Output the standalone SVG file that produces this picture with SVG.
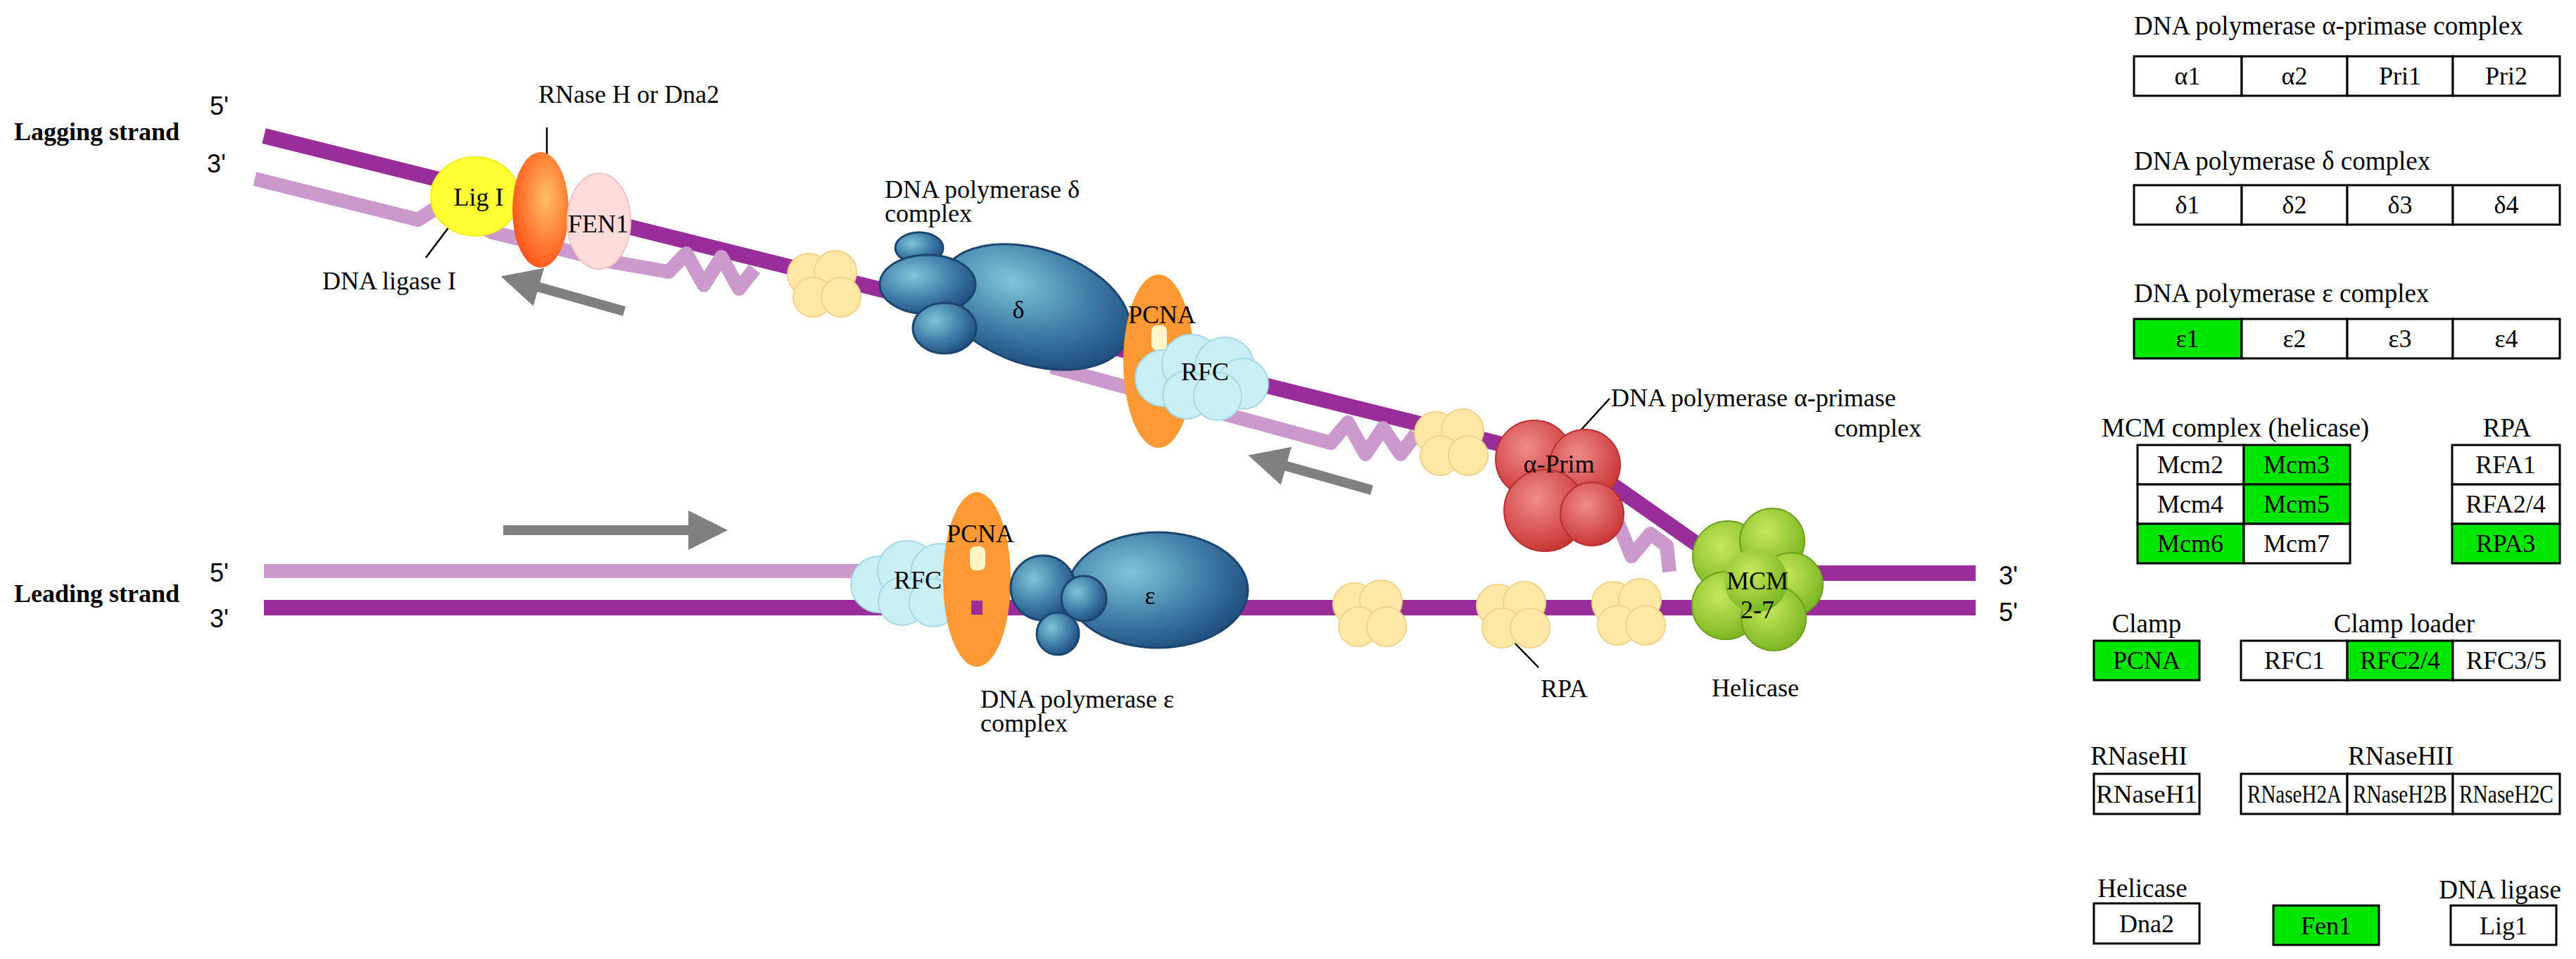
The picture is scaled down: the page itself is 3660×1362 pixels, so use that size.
<svg xmlns="http://www.w3.org/2000/svg" xmlns:xlink="http://www.w3.org/1999/xlink" width="3660" height="1362" viewBox="0 0 3660 1362">
<style>
text{font-family:"Liberation Serif","Times New Roman",serif;fill:#000}
.lbl{font-size:36px}
.cell{font-size:36px;text-anchor:middle}
.ttl{font-size:37px}
.bold{font-size:36px;font-weight:bold}
.end{font-family:"Liberation Sans",Arial,sans-serif;font-size:36px}
.box{fill:#fff;stroke:#000;stroke-width:3}
.on{fill:#00e600;stroke:#000;stroke-width:3}
.dark{fill:none;stroke:#992d99;stroke-width:22;stroke-linejoin:round}
.light{fill:none;stroke:#cc99cc;stroke-width:20;stroke-linejoin:round}
.arrow{stroke:#808080;stroke-width:14;fill:none}
.lead{stroke:#000;stroke-width:2.5;fill:none}
</style>
<defs>
<marker id="ah" markerWidth="4" markerHeight="4" refX="1" refY="2" orient="auto" markerUnits="strokeWidth"><path d="M0,0 L4,2 L0,4 z" fill="#808080"/></marker>
<radialGradient id="blue" cx="35%" cy="35%" r="70%"><stop offset="0" stop-color="#7fc4d8"/><stop offset="0.6" stop-color="#3f7ca6"/><stop offset="1" stop-color="#1f4f7d"/></radialGradient>
<radialGradient id="orangeRed" cx="60%" cy="40%" r="70%"><stop offset="0" stop-color="#ffc060"/><stop offset="1" stop-color="#ff4a10"/></radialGradient>
<radialGradient id="red" cx="40%" cy="35%" r="70%"><stop offset="0" stop-color="#f08a8a"/><stop offset="1" stop-color="#c83232"/></radialGradient>
<radialGradient id="green" cx="40%" cy="35%" r="70%"><stop offset="0" stop-color="#c6e85a"/><stop offset="1" stop-color="#78b420"/></radialGradient>
<g id="rpa" fill="#ffe7a6" stroke="#f3d38a" stroke-width="2">
<circle cx="-22" cy="-14" r="30"/><circle cx="16" cy="-18" r="30"/><circle cx="-16" cy="18" r="28"/><circle cx="24" cy="18" r="28"/>
</g>
<g id="rfc" fill="#c9eef4" stroke="#a5d9e4" stroke-width="2">
<circle cx="-55" cy="2" r="40"/><circle cx="-15" cy="-18" r="42"/><circle cx="32" cy="-14" r="42"/><circle cx="58" cy="10" r="36"/><circle cx="-22" cy="26" r="34"/><circle cx="22" cy="28" r="34"/>
</g>
</defs>

<g id="connectors">
<!-- lagging template (dark) -->
<polyline class="dark" points="375,193 2250,660 2450,800 2520,814 2807,814"/>
<!-- leading strands -->
<line class="light" x1="375" y1="811" x2="1400" y2="811"/>
<line class="dark" x1="375" y1="863" x2="2807" y2="863"/>
<!-- Okazaki fragments -->
<polyline class="light" points="362,254 594,312 625,292 700,330 870,372 950,386 975,360 1000,405 1025,365 1050,410 1072,382"/>
<polyline class="light" points="1494,521 1891,629 1915,600 1940,645 1965,608 1990,645 2012,616"/>
<polyline class="light" points="2270,752 2300,745 2318,790 2345,758 2368,775 2372,812"/>
<!-- gray direction arrows -->
<line class="arrow" x1="887" y1="442" x2="752" y2="404" marker-end="url(#ah)"/>
<line class="arrow" x1="1949" y1="696" x2="1814" y2="658" marker-end="url(#ah)"/>
<line class="arrow" x1="715" y1="753" x2="992" y2="753" marker-end="url(#ah)"/>
<!-- leader lines -->
<line class="lead" x1="777" y1="181" x2="777" y2="257"/>
<line class="lead" x1="605" y1="366" x2="654" y2="301"/>
<line class="lead" x1="2145" y1="906" x2="2186" y2="948"/>
<line class="lead" x1="2225" y1="634" x2="2287" y2="566"/>
</g>

<g id="labels-left">
<text class="bold" x="20" y="199">Lagging strand</text>
<text class="end" x="298" y="163">5'</text>
<text class="end" x="294" y="245">3'</text>
<text class="bold" x="20" y="855">Leading strand</text>
<text class="end" x="298" y="826">5'</text>
<text class="end" x="298" y="891">3'</text>
<text class="end" x="2840" y="830">3'</text>
<text class="end" x="2840" y="882">5'</text>
</g>

<g id="ligI">
<ellipse cx="675" cy="279" rx="63" ry="56" fill="#ffff33" stroke="#eeee20" stroke-width="2"/>
<text class="lbl" x="680" y="292" text-anchor="middle">Lig I</text>
<text class="lbl" x="458" y="411">DNA ligase I</text>
</g>
<g id="rnaseH">
<ellipse cx="768" cy="298" rx="40" ry="82" fill="url(#orangeRed)"/>
<text class="lbl" x="765" y="146">RNase H or Dna2</text>
</g>
<g id="fen1">
<ellipse cx="851" cy="314" rx="45" ry="68" fill="#ffdcdc" stroke="#f4c4c4" stroke-width="2"/>
<text class="lbl" x="850" y="330" text-anchor="middle">FEN1</text>
</g>

<g id="rpa1"><use xlink:href="#rpa" x="1171" y="404"/></g>
<g id="rpa2"><use xlink:href="#rpa" x="2062" y="629"/></g>
<g id="rpa3"><use xlink:href="#rpa" x="1946" y="872"/></g>
<g id="rpa4"><use xlink:href="#rpa" x="2150" y="874"/>
<text class="lbl" x="2189" y="990">RPA</text></g>
<g id="rpa5"><use xlink:href="#rpa" x="2314" y="870"/></g>

<g id="polDelta">
<ellipse cx="1470" cy="436" rx="140" ry="82" transform="rotate(18 1470 436)" fill="url(#blue)" stroke="#1c4670" stroke-width="3"/>
<ellipse cx="1306" cy="352" rx="34" ry="22" fill="url(#blue)" stroke="#1c4670" stroke-width="3"/>
<ellipse cx="1318" cy="404" rx="68" ry="42" fill="url(#blue)" stroke="#1c4670" stroke-width="3"/>
<ellipse cx="1342" cy="466" rx="45" ry="36" fill="url(#blue)" stroke="#1c4670" stroke-width="3"/>
<text class="lbl" x="1447" y="452" text-anchor="middle">δ</text>
<text class="lbl" x="1257" y="281">DNA polymerase δ</text>
<text class="lbl" x="1257" y="315">complex</text>
</g>

<g id="pcnaLag">
<ellipse cx="1646" cy="513" rx="50" ry="123" fill="#ff9933"/>
<rect x="1636" y="462" width="22" height="36" rx="8" fill="#fff5c8"/>
<text class="lbl" x="1603" y="459">PCNA</text>
</g>
<g id="rfcLag"><use xlink:href="#rfc" x="1708" y="535"/>
<text class="lbl" x="1712" y="540" text-anchor="middle">RFC</text></g>

<g id="alphaPrim">
<circle cx="2180" cy="652" r="55" fill="url(#red)" stroke="#b83030" stroke-width="2"/>
<circle cx="2252" cy="660" r="50" fill="url(#red)" stroke="#b83030" stroke-width="2"/>
<circle cx="2195" cy="725" r="58" fill="url(#red)" stroke="#b83030" stroke-width="2"/>
<circle cx="2262" cy="730" r="45" fill="url(#red)" stroke="#b83030" stroke-width="2"/>
<text class="lbl" x="2215" y="671" text-anchor="middle">α-Prim</text>
<text class="lbl" x="2289" y="577">DNA polymerase α-primase</text>
<text class="lbl" x="2730" y="620" text-anchor="end">complex</text>
</g>

<g id="mcm">
<circle cx="2455" cy="790" r="50" fill="url(#green)" stroke="#6ea01e" stroke-width="2"/>
<circle cx="2518" cy="768" r="46" fill="url(#green)" stroke="#6ea01e" stroke-width="2"/>
<circle cx="2545" cy="830" r="45" fill="url(#green)" stroke="#6ea01e" stroke-width="2"/>
<circle cx="2452" cy="860" r="48" fill="url(#green)" stroke="#6ea01e" stroke-width="2"/>
<circle cx="2520" cy="878" r="46" fill="url(#green)" stroke="#6ea01e" stroke-width="2"/>
<circle cx="2495" cy="825" r="45" fill="url(#green)"/>
<text class="lbl" x="2497" y="837" text-anchor="middle">MCM</text>
<text class="lbl" x="2497" y="878" text-anchor="middle">2-7</text>
<text class="lbl" x="2432" y="989">Helicase</text>
</g>

<g id="rfcLead"><use xlink:href="#rfc" x="1304" y="828"/>
<text class="lbl" x="1304" y="836" text-anchor="middle">RFC</text></g>
<g id="pcnaLead">
<ellipse cx="1388" cy="823" rx="48" ry="124" fill="#ff9933"/>
<rect x="1378" y="776" width="22" height="34" rx="8" fill="#fff5c8"/>
<rect x="1380" y="853" width="16" height="20" fill="#992d99"/>
<text class="lbl" x="1345" y="770">PCNA</text>
</g>
<g id="polEps">
<ellipse cx="1645" cy="838" rx="128" ry="82" fill="url(#blue)" stroke="#1c4670" stroke-width="3"/>
<circle cx="1482" cy="835" r="46" fill="url(#blue)" stroke="#1c4670" stroke-width="3"/>
<circle cx="1540" cy="850" r="32" fill="url(#blue)" stroke="#1c4670" stroke-width="3"/>
<circle cx="1503" cy="900" r="30" fill="url(#blue)" stroke="#1c4670" stroke-width="3"/>
<text class="lbl" x="1634" y="858" text-anchor="middle">ε</text>
<text class="lbl" x="1393" y="1005">DNA polymerase ε</text>
<text class="lbl" x="1393" y="1039">complex</text>
</g>

<!-- Right legend -->
<g id="legAlpha">
<text class="ttl" x="3032" y="49">DNA polymerase α-primase complex</text>
<rect class="box" x="3032" y="80" width="153" height="56"/><text class="cell" x="3108" y="120">α1</text>
<rect class="box" x="3185" y="80" width="150" height="56"/><text class="cell" x="3260" y="120">α2</text>
<rect class="box" x="3335" y="80" width="150" height="56"/><text class="cell" x="3410" y="120">Pri1</text>
<rect class="box" x="3485" y="80" width="152" height="56"/><text class="cell" x="3561" y="120">Pri2</text>
</g>
<g id="legDelta">
<text class="ttl" x="3032" y="241">DNA polymerase δ complex</text>
<rect class="box" x="3032" y="263" width="153" height="56"/><text class="cell" x="3108" y="303">δ1</text>
<rect class="box" x="3185" y="263" width="150" height="56"/><text class="cell" x="3260" y="303">δ2</text>
<rect class="box" x="3335" y="263" width="150" height="56"/><text class="cell" x="3410" y="303">δ3</text>
<rect class="box" x="3485" y="263" width="152" height="56"/><text class="cell" x="3561" y="303">δ4</text>
</g>
<g id="legEps">
<text class="ttl" x="3032" y="429">DNA polymerase ε complex</text>
<rect class="on" x="3032" y="453" width="153" height="56"/><text class="cell" x="3108" y="493">ε1</text>
<rect class="box" x="3185" y="453" width="150" height="56"/><text class="cell" x="3260" y="493">ε2</text>
<rect class="box" x="3335" y="453" width="150" height="56"/><text class="cell" x="3410" y="493">ε3</text>
<rect class="box" x="3485" y="453" width="152" height="56"/><text class="cell" x="3561" y="493">ε4</text>
</g>
<g id="legMCM">
<text class="ttl" x="2986" y="620">MCM complex (helicase)</text>
<rect class="box" x="3037" y="632" width="151" height="56"/><text class="cell" x="3112" y="672">Mcm2</text>
<rect class="on" x="3188" y="632" width="151" height="56"/><text class="cell" x="3263" y="672">Mcm3</text>
<rect class="box" x="3037" y="688" width="151" height="56"/><text class="cell" x="3112" y="728">Mcm4</text>
<rect class="on" x="3188" y="688" width="151" height="56"/><text class="cell" x="3263" y="728">Mcm5</text>
<rect class="on" x="3037" y="744" width="151" height="56"/><text class="cell" x="3112" y="784">Mcm6</text>
<rect class="box" x="3188" y="744" width="151" height="56"/><text class="cell" x="3263" y="784">Mcm7</text>
</g>
<g id="legRPA">
<text class="ttl" x="3562" y="620" text-anchor="middle">RPA</text>
<rect class="box" x="3484" y="632" width="153" height="56"/><text class="cell" x="3560" y="672">RFA1</text>
<rect class="box" x="3484" y="688" width="153" height="56"/><text class="cell" x="3560" y="728">RFA2/4</text>
<rect class="on" x="3484" y="744" width="153" height="56"/><text class="cell" x="3560" y="784">RPA3</text>
</g>
<g id="legClamp">
<text class="ttl" x="3050" y="898" text-anchor="middle">Clamp</text>
<rect class="on" x="2975" y="910" width="150" height="56"/><text class="cell" x="3050" y="950">PCNA</text>
</g>
<g id="legClampLoader">
<text class="ttl" x="3416" y="898" text-anchor="middle">Clamp loader</text>
<rect class="box" x="3184" y="910" width="151" height="56"/><text class="cell" x="3260" y="950">RFC1</text>
<rect class="on" x="3335" y="910" width="150" height="56"/><text class="cell" x="3410" y="950">RFC2/4</text>
<rect class="box" x="3485" y="910" width="152" height="56"/><text class="cell" x="3561" y="950">RFC3/5</text>
</g>
<g id="legRNaseHI">
<text class="ttl" x="3039" y="1086" text-anchor="middle">RNaseHI</text>
<rect class="box" x="2975" y="1099" width="150" height="57"/><text class="cell" x="3050" y="1140" textLength="144" lengthAdjust="spacingAndGlyphs">RNaseH1</text>
</g>
<g id="legRNaseHII">
<text class="ttl" x="3411" y="1086" text-anchor="middle">RNaseHII</text>
<rect class="box" x="3184" y="1099" width="151" height="57"/><text class="cell" x="3260" y="1140" textLength="134" lengthAdjust="spacingAndGlyphs">RNaseH2A</text>
<rect class="box" x="3335" y="1099" width="150" height="57"/><text class="cell" x="3410" y="1140" textLength="134" lengthAdjust="spacingAndGlyphs">RNaseH2B</text>
<rect class="box" x="3485" y="1099" width="152" height="57"/><text class="cell" x="3561" y="1140" textLength="134" lengthAdjust="spacingAndGlyphs">RNaseH2C</text>
</g>
<g id="legHelicase">
<text class="ttl" x="3044" y="1274" text-anchor="middle">Helicase</text>
<rect class="box" x="2975" y="1283" width="150" height="57"/><text class="cell" x="3050" y="1324">Dna2</text>
</g>
<g id="legFen1">
<rect class="on" x="3230" y="1286" width="150" height="56"/><text class="cell" x="3305" y="1327">Fen1</text>
</g>
<g id="legLigase">
<text class="ttl" x="3552" y="1276" text-anchor="middle">DNA ligase</text>
<rect class="box" x="3482" y="1286" width="150" height="56"/><text class="cell" x="3557" y="1327">Lig1</text>
</g>
</svg>
